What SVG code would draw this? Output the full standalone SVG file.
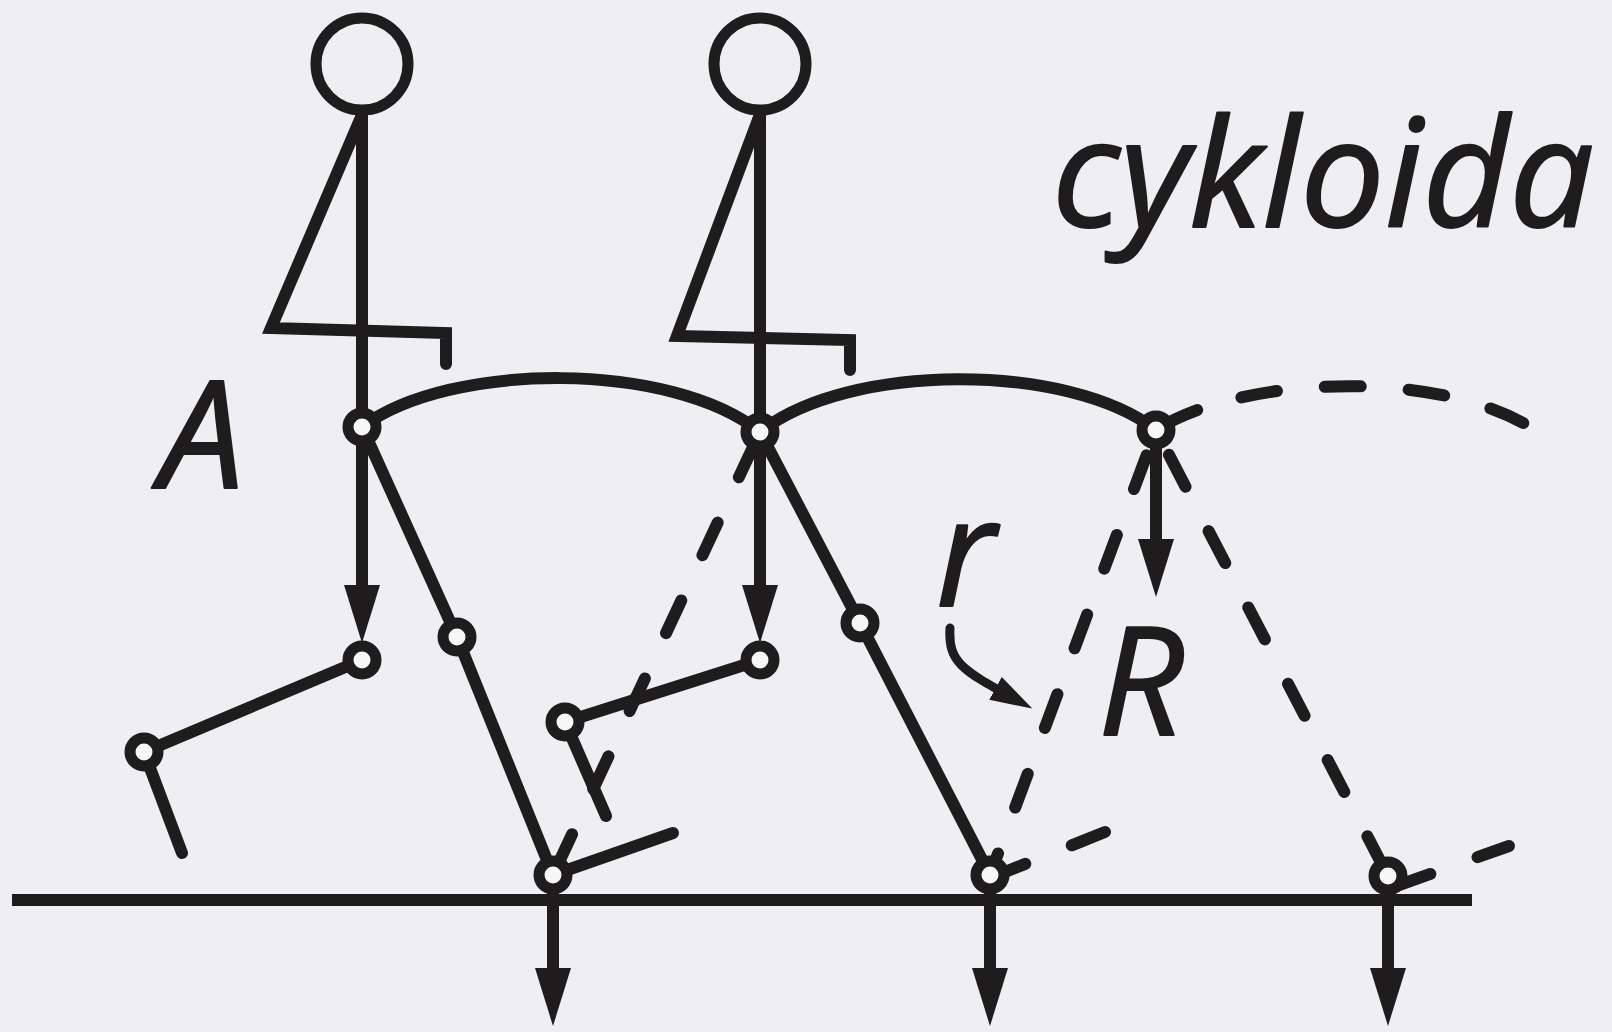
<svg xmlns="http://www.w3.org/2000/svg" width="1612" height="1032" viewBox="0 0 1612 1032">
  <style>
    .ln{fill:none;stroke:#1e1c1d;stroke-width:12;stroke-linecap:round;stroke-linejoin:miter}
    .thin{fill:none;stroke:#1e1c1d;stroke-width:9;stroke-linecap:round}
    .leg{stroke-dasharray:36 50;stroke-dashoffset:72}
    .jt{fill:#f7f7f9;stroke:#1e1c1d;stroke-width:11}
    .head{fill:none;stroke:#1e1c1d;stroke-width:11}
    .lbl{font-family:"Open Sans","Noto Sans",sans-serif;font-style:italic;font-weight:400;font-size:150px;fill:#1e1c1d;stroke:#1e1c1d;stroke-width:2;stroke-linejoin:round}
  </style>
  <defs>
    <!-- load arrowhead: the shaft stops 28px short of the tip -->
    <marker id="ah" markerUnits="userSpaceOnUse" markerWidth="58" markerHeight="36" viewBox="0 0 58 36" refX="30" refY="18" orient="auto">
      <path d="M0,0 L58,18 L0,36 Z" fill="#1e1c1d"/>
    </marker>
    <marker id="ahs" markerUnits="userSpaceOnUse" markerWidth="42" markerHeight="26" viewBox="0 0 42 26" refX="20" refY="13" orient="auto">
      <path d="M0,0 L42,13 L0,26 Z" fill="#1e1c1d"/>
    </marker>
  </defs>

  <rect width="1612" height="1032" fill="#efeef3"/>

  <g id="connectors">
    <!-- ground -->
    <line class="ln" x1="12" y1="900" x2="1472" y2="900" style="stroke-linecap:butt"/>
    <!-- cycloid traced by the hip -->
    <path class="ln" d="M362,427 C450,361 672,361 760,432"/>
    <path class="ln" d="M760,432 C848,362 1068,362 1156,430"/>
    <path class="ln" d="M1156,430 C1232,380 1420,366 1525,424" style="stroke-dasharray:46 46 36 48 36 48 36 48 36 48"/>
    <!-- ground reactions -->
    <line class="ln" x1="553" y1="875" x2="553" y2="998" marker-end="url(#ah)" style="stroke-linecap:butt"/>
    <line class="ln" x1="990" y1="875" x2="990" y2="998" marker-end="url(#ah)" style="stroke-linecap:butt"/>
    <line class="ln" x1="1388" y1="876" x2="1388" y2="998" marker-end="url(#ah)" style="stroke-linecap:butt"/>
    <!-- rotation from r to R -->
    <path class="thin" d="M950,628 C948,662 962,670 1013,698" marker-end="url(#ahs)"/>
  </g>

  <g id="figure-1">
    <circle class="head" cx="362" cy="64" r="46"/>
    <line class="ln" x1="362" y1="112" x2="362" y2="615" marker-end="url(#ah)" style="stroke-linecap:butt"/>
    <path class="ln" d="M361,117 L271,328 L446,333 L446,364"/>
    <!-- stance leg -->
    <path class="ln" d="M362,427 L457,637 L553,875"/>
    <line class="ln" x1="553" y1="875" x2="673" y2="833"/>
    <!-- swing leg -->
    <path class="ln" d="M362,660 L144,752 L182,853"/>
  </g>

  <g id="figure-2">
    <circle class="head" cx="760" cy="64" r="46"/>
    <line class="ln" x1="760" y1="112" x2="760" y2="615" marker-end="url(#ah)" style="stroke-linecap:butt"/>
    <path class="ln" d="M759,117 L677,336 L850,340 L850,370"/>
    <!-- stance leg -->
    <path class="ln" d="M760,432 L860,623 L990,875"/>
    <path class="ln" d="M990,878 L1105,832" style="stroke-dasharray:38 50"/>
    <!-- swing leg -->
    <path class="ln" d="M760,660 L565,722 L606,816"/>
    <!-- previous leg position -->
    <path class="ln leg" d="M760,432 L553,875"/>
  </g>

  <g id="figure-3">
    <line class="ln" x1="1156" y1="430" x2="1156" y2="569" marker-end="url(#ah)" style="stroke-linecap:butt"/>
    <path class="ln leg" d="M1156,430 L990,875" style="stroke-dasharray:36 49;stroke-dashoffset:58"/>
    <path class="ln leg" d="M1156,430 L1388,876" style="stroke-dashoffset:58"/>
    <path class="ln" d="M1388,889 L1509,846" style="stroke-dasharray:45 50"/>
  </g>

  <g id="joints">
    <g id="hip-1"><circle class="jt" cx="362" cy="427" r="14"/></g>
    <g id="knee-1a"><circle class="jt" cx="362" cy="660" r="14"/></g>
    <g id="ankle-1a"><circle class="jt" cx="144" cy="752" r="14"/></g>
    <g id="knee-1b"><circle class="jt" cx="457" cy="637" r="14"/></g>
    <g id="foot-1"><circle class="jt" cx="553" cy="875" r="14"/></g>
    <g id="hip-2"><circle class="jt" cx="760" cy="432" r="14"/></g>
    <g id="knee-2a"><circle class="jt" cx="760" cy="660" r="14"/></g>
    <g id="ankle-2a"><circle class="jt" cx="565" cy="722" r="14"/></g>
    <g id="knee-2b"><circle class="jt" cx="860" cy="623" r="14"/></g>
    <g id="foot-2"><circle class="jt" cx="990" cy="875" r="14"/></g>
    <g id="hip-3"><circle class="jt" cx="1156" cy="430" r="14"/></g>
    <g id="foot-3"><circle class="jt" cx="1388" cy="876" r="14"/></g>
  </g>

  <g id="labels">
    <text class="lbl" x="160" y="488">A</text>
    <text class="lbl" x="936" y="606">r</text>
    <text class="lbl" x="1098" y="735">R</text>
    <text class="lbl" x="1594" y="227" text-anchor="end">cykloida</text>
  </g>
</svg>
